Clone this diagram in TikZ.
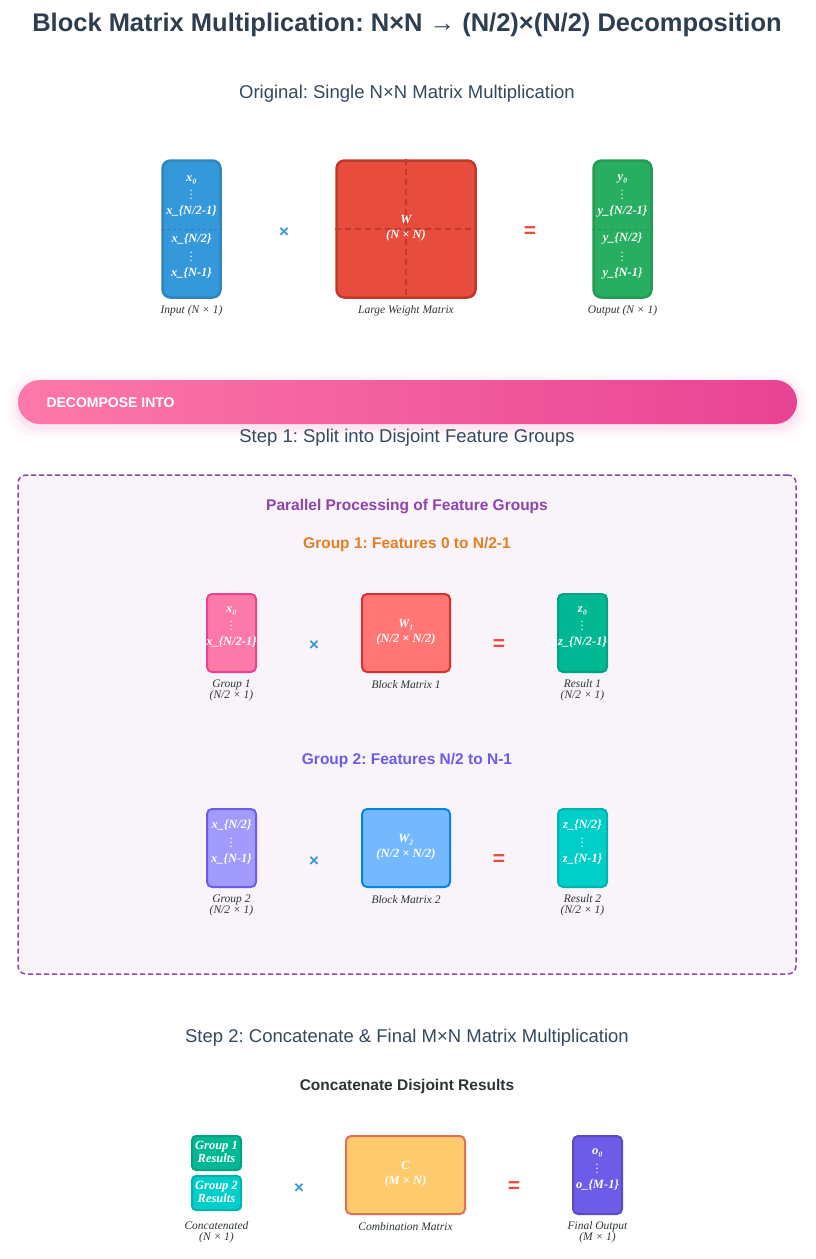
\documentclass[tikz,border=0pt]{standalone}
\usepackage{fontspec}
\setmainfont{Liberation Serif}
\newfontfamily\headfont{Liberation Sans}
\usetikzlibrary{positioning}
\pgfdeclarelayer{background}
\pgfsetlayers{background,main}
\frenchspacing

\definecolor{headcol}{HTML}{2C3E50}
\definecolor{stepcol}{HTML}{34495E}
\definecolor{capcol}{HTML}{2D3436}
\definecolor{blueA}{HTML}{3498DB}
\definecolor{blueB}{HTML}{2E86C1}
\definecolor{redA}{HTML}{E74C3C}
\definecolor{redB}{HTML}{C0392B}
\definecolor{greenA}{HTML}{27AE60}
\definecolor{greenB}{HTML}{239B56}
\definecolor{pinkA}{HTML}{FD79A8}
\definecolor{pinkB}{HTML}{E84393}
\definecolor{purpA}{HTML}{8E44AD}
\definecolor{panelcol}{HTML}{F9F3FA}
\definecolor{orangeA}{HTML}{E67E22}
\definecolor{salmonA}{HTML}{FF7675}
\definecolor{salmonB}{HTML}{D63031}
\definecolor{mintA}{HTML}{00B894}
\definecolor{mintB}{HTML}{00A383}
\definecolor{lavA}{HTML}{A29BFE}
\definecolor{violA}{HTML}{6C5CE7}
\definecolor{violB}{HTML}{5B4BC4}
\definecolor{skyA}{HTML}{74B9FF}
\definecolor{skyB}{HTML}{0984E3}
\definecolor{cyanA}{HTML}{00CEC9}
\definecolor{cyanB}{HTML}{00B3AE}
\definecolor{sandA}{HTML}{FDCB6E}
\definecolor{sandB}{HTML}{E17055}

\newcommand{\vdt}{{\fontsize{9}{9}\selectfont$\vdots$}}

\begin{document}
\begin{tikzpicture}[x=1pt,y=-1pt,
	box/.style={draw, inner sep=0pt},
	bigvec/.style={box, rounded corners=8pt, line width=2.5pt, minimum width=58pt, minimum height=137pt},
	bigmat/.style={box, rounded corners=8pt, line width=2.5pt, minimum width=139pt, minimum height=137pt},
	smallvec/.style={box, rounded corners=5pt, line width=2pt, minimum width=49pt, minimum height=78pt},
	smallmat/.style={box, rounded corners=5pt, line width=2pt, minimum width=88pt, minimum height=78pt},
	catbox/.style={box, rounded corners=4pt, line width=2pt, minimum width=49pt, minimum height=34pt},
	intext/.style={text=white, font=\bfseries\itshape\fontsize{12.5}{15}\selectfont, align=center, inner sep=0pt},
	cattext/.style={text=white, font=\bfseries\itshape\fontsize{12.5}{10}\selectfont, align=center, inner sep=0pt},
	caption/.style={text=capcol, font=\itshape\fontsize{11.5}{11}\selectfont, align=center, inner sep=0pt},
	heading/.style={text=stepcol, font=\headfont\fontsize{18.5}{20}\selectfont},
	subhead/.style={font=\headfont\bfseries\fontsize{15.5}{18}\selectfont},
	timesop/.style={text=blueA, font=\headfont\bfseries\fontsize{17}{17}\selectfont},
	equalop/.style={text=redA, font=\headfont\bfseries\fontsize{21}{21}\selectfont},
	]
	\useasboundingbox (0,0) rectangle (815,1259);
	%Headings
	\node[text=headcol, font=\headfont\bfseries\fontsize{25.5}{28}\selectfont] (title) at (407,25) {Block Matrix Multiplication: N×N → (N/2)×(N/2) Decomposition};
	\node[heading] (orig) at (407,94) {Original: Single N×N Matrix Multiplication};
	
	%Original product
	\node[bigvec, fill=blueA, draw=blueB] (inp) at (191.5,229) {};
	\node[intext] (inptop) at (191.5,196) {x₀\\\vdt\\x\_\{N/2-1\}};
	\node[intext] (inpbot) at (191.5,256) {x\_\{N/2\}\\\vdt\\x\_\{N-1\}};
	\node[caption] (inpcap) at (191.5,311) {Input (N × 1)};
	\node[timesop] (op1) at (284,233) {×};
	\node[bigmat, fill=redA, draw=redB] (wbig) at (406,229) {};
	\node[caption] (wcap) at (406,311) {Large Weight Matrix};
	\node[equalop] (eq1) at (530,232) {=};
	\node[bigvec, fill=greenA, draw=greenB] (outp) at (622.5,229) {};
	\node[intext] (outtop) at (622.5,196) {y₀\\\vdt\\y\_\{N/2-1\}};
	\node[intext] (outbot) at (622.5,256) {y\_\{N/2\}\\\vdt\\y\_\{N-1\}};
	\node[caption] (outcap) at (622.5,311) {Output (N × 1)};
	
	%Banner
	\node[rounded corners=22pt, minimum width=779pt, minimum height=44pt, left color=pinkA, right color=pinkB, inner sep=0pt] (banner) at (407.5,402) {};
	\node[text=white, font=\headfont\bfseries\fontsize{14}{16}\selectfont, anchor=west] (bantext) at (43,403) {DECOMPOSE INTO};
	\node[heading] (step1) at (407,438) {Step 1: Split into Disjoint Feature Groups};
	
	%Parallel panel
	\node[rounded corners=8pt, draw=purpA, line width=1.5pt, fill=panelcol, minimum width=778pt, minimum height=499pt, dash pattern=on 5pt off 3pt] (panel) at (407,724.5) {};
	\node[subhead, text=purpA] (partitle) at (407,507) {Parallel Processing of Feature Groups};
	\node[subhead, text=orangeA] (grp1head) at (407,544) {Group 1: Features 0 to N/2-1};
	
	\node[smallvec, fill=pinkA, draw=pinkB] (g1) at (231.5,633) {};
	\node[intext] (g1text) at (231.5,627) {x₀\\\vdt\\x\_\{N/2-1\}};
	\node[caption] (g1cap) at (231.5,690) {Group 1\\(N/2 × 1)};
	\node[timesop] (op2) at (314,646) {×};
	\node[smallmat, fill=salmonA, draw=salmonB] (b1) at (406,633) {};
	\node[intext] (b1text) at (406,632) {W₁\\(N/2 × N/2)};
	\node[caption] (b1cap) at (406,685) {Block Matrix 1};
	\node[equalop] (eq2) at (499,645) {=};
	\node[smallvec, fill=mintA, draw=mintB] (r1) at (582.5,633) {};
	\node[intext] (r1text) at (582.5,627) {z₀\\\vdt\\z\_\{N/2-1\}};
	\node[caption] (r1cap) at (582.5,690) {Result 1\\(N/2 × 1)};
	
	\node[subhead, text=violA] (grp2head) at (407,760) {Group 2: Features N/2 to N-1};
	
	\node[smallvec, fill=lavA, draw=violA] (g2) at (231.5,848) {};
	\node[intext] (g2text) at (231.5,842) {x\_\{N/2\}\\\vdt\\x\_\{N-1\}};
	\node[caption] (g2cap) at (231.5,905) {Group 2\\(N/2 × 1)};
	\node[timesop] (op3) at (314,862) {×};
	\node[smallmat, fill=skyA, draw=skyB] (b2) at (406,848) {};
	\node[intext] (b2text) at (406,847) {W₂\\(N/2 × N/2)};
	\node[caption] (b2cap) at (406,900) {Block Matrix 2};
	\node[equalop] (eq3) at (499,860) {=};
	\node[smallvec, fill=cyanA, draw=cyanB] (r2) at (582.5,848) {};
	\node[intext] (r2text) at (582.5,842) {z\_\{N/2\}\\\vdt\\z\_\{N-1\}};
	\node[caption] (r2cap) at (582.5,905) {Result 2\\(N/2 × 1)};
	
	%Final product
	\node[heading] (step2) at (407,1038) {Step 2: Concatenate \& Final M×N Matrix Multiplication};
	\node[text=capcol, font=\headfont\bfseries\fontsize{15.5}{16}\selectfont] (cathead) at (407,1086) {Concatenate Disjoint Results};
	
	\node[catbox, fill=mintA, draw=mintB] (cat1) at (216.5,1153) {};
	\node[cattext] (cat1text) at (216.5,1152) {Group 1\\Results};
	\node[catbox, fill=cyanA, draw=cyanB] (cat2) at (216.5,1193) {};
	\node[cattext] (cat2text) at (216.5,1192) {Group 2\\Results};
	\node[caption] (catcap) at (216.5,1232) {Concatenated\\(N × 1)};
	\node[timesop] (op4) at (299,1189) {×};
	\node[box, rounded corners=5pt, line width=2pt, minimum width=119pt, minimum height=78pt, fill=sandA, draw=sandB] (cmat) at (405.5,1175) {};
	\node[intext] (ctext) at (405.5,1174) {C\\(M × N)};
	\node[caption] (ccap) at (405.5,1227) {Combination Matrix};
	\node[equalop] (eq4) at (514,1187) {=};
	\node[smallvec, fill=violA, draw=violB] (fout) at (597.5,1175) {};
	\node[intext] (ftext) at (597.5,1169) {o₀\\\vdt\\o\_\{M-1\}};
	\node[caption] (fcap) at (597.5,1232) {Final Output\\(M × 1)};
	
	\begin{pgfonlayer}{background}
	\foreach \grow/\op in {10/0.02,7/0.03,4/0.04,2/0.05}
		\fill[pinkB, opacity=\op, rounded corners=24pt] ([shift={(-\grow,-\grow+4)}]banner.north west) rectangle ([shift={(\grow,\grow+4)}]banner.south east);
	\end{pgfonlayer}
	
	%Dividers
	\draw[blueB!80!black, opacity=0.5, line width=1pt, dashed] (inp.west) -- (inp.east);
	\draw[greenB!80!black, opacity=0.5, line width=1pt, dashed] (outp.west) -- (outp.east);
	\draw[redB, line width=1.5pt, dash pattern=on 6pt off 4pt] (wbig.north) -- (wbig.south);
	\draw[redB, line width=1.5pt, dash pattern=on 6pt off 4pt] (wbig.west) -- (wbig.east);
	\node[intext] (wtext) at (406,228) {W\\(N × N)};
\end{tikzpicture}
\end{document}
